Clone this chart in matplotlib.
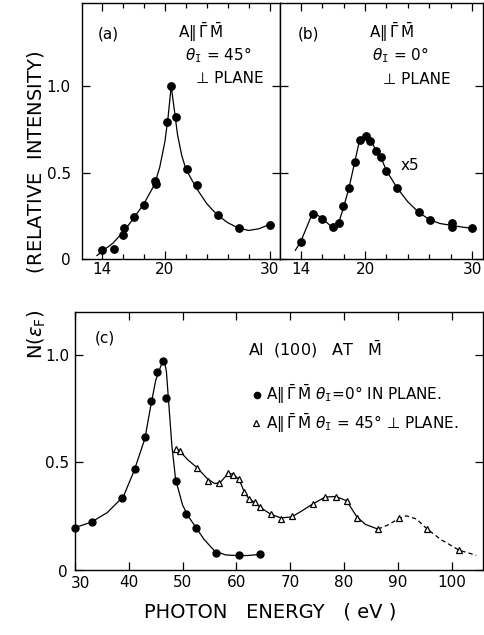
import matplotlib
matplotlib.use("Agg")
import matplotlib.pyplot as plt

plt.rcParams['font.family'] = ['DejaVu Sans']
plt.rcParams['mathtext.fontset'] = 'dejavusans'

# panel (a): A || GM, theta=45, perp plane
a_x = [14.0, 15.1, 16.0, 16.06, 17.0, 18.0, 19.07, 19.13, 20.2, 20.6, 21.1, 22.08, 23.03, 25.03, 27.05, 30.07]
a_y = [0.052, 0.056, 0.14, 0.177, 0.245, 0.314, 0.449, 0.434, 0.794, 1.0, 0.823, 0.52, 0.426, 0.253, 0.177, 0.197]
a_cx = [13.5, 14, 15, 16, 17, 18, 19, 19.5, 20, 20.3, 20.6, 20.9, 21.2, 21.6, 22, 23, 24, 25, 26, 27, 28, 29, 30]
a_cy = [0.02, 0.045, 0.09, 0.155, 0.235, 0.32, 0.43, 0.53, 0.68, 0.82, 1.0, 0.86, 0.72, 0.6, 0.52, 0.41, 0.32, 0.255, 0.21, 0.18, 0.165, 0.175, 0.2]

# panel (b): A || GM, theta=0, perp plane (x5)
b_x = [14.03, 15.17, 15.98, 16.98, 17.56, 17.96, 18.5, 19.08, 19.55, 20.05, 20.5, 20.98, 21.5, 22.0, 22.99, 25.03, 26.1, 28.07, 28.07, 30.0]
b_y = [0.096, 0.26, 0.233, 0.183, 0.21, 0.306, 0.41, 0.559, 0.69, 0.713, 0.684, 0.626, 0.588, 0.509, 0.41, 0.273, 0.225, 0.21, 0.187, 0.177]
b_cx = [13.5, 14, 15, 15.3, 16, 16.9, 17.5, 18, 18.5, 19, 19.5, 20, 20.5, 21, 21.5, 22, 23, 24, 25, 26, 27, 28, 29, 30]
b_cy = [0.05, 0.1, 0.25, 0.265, 0.235, 0.185, 0.2, 0.3, 0.41, 0.55, 0.69, 0.715, 0.69, 0.63, 0.585, 0.51, 0.41, 0.33, 0.27, 0.228, 0.205, 0.195, 0.185, 0.177]

# panel (c): Al(100) at M
dot_x = [30.0, 33.1, 38.8, 41.15, 43.07, 44.1, 45.2, 46.4, 47.0, 48.7, 50.6, 52.5, 56.3, 60.5, 64.4]
dot_y = [0.195, 0.219, 0.335, 0.467, 0.617, 0.783, 0.919, 0.972, 0.8, 0.412, 0.26, 0.194, 0.077, 0.066, 0.07]
dot_cx = [30, 33, 36, 39, 41, 43, 44, 45, 46, 46.6, 47, 47.5, 48, 48.7, 50, 51, 52.5, 54, 56, 58, 60, 62, 64.4]
dot_cy = [0.195, 0.22, 0.265, 0.34, 0.46, 0.61, 0.75, 0.88, 0.95, 0.975, 0.92, 0.75, 0.58, 0.42, 0.3, 0.25, 0.195, 0.14, 0.085, 0.068, 0.065, 0.065, 0.07]

tri_x = [48.8, 49.5, 52.7, 54.7, 56.7, 58.4, 59.3, 60.5, 61.4, 62.3, 63.5, 64.4, 66.4, 68.3, 70.3, 74.2, 76.5, 78.5, 80.5, 82.4, 86.3, 90.3, 95.4, 101.4]
tri_y = [0.563, 0.55, 0.474, 0.412, 0.403, 0.447, 0.442, 0.419, 0.361, 0.326, 0.312, 0.29, 0.257, 0.237, 0.249, 0.304, 0.338, 0.338, 0.319, 0.242, 0.189, 0.24, 0.19, 0.09]
tri_cx = [48.8, 49.5, 51, 52.7, 54.7, 56, 57, 58.4, 59.3, 60.5, 61.4, 62.3, 63.5, 64.4, 66.4, 68.3, 70.3, 72, 74.2, 76.5, 78.5, 80.5, 82.4, 84, 86.3]
tri_cy = [0.565, 0.55, 0.51, 0.474, 0.42, 0.4, 0.405, 0.445, 0.445, 0.42, 0.365, 0.33, 0.31, 0.29, 0.257, 0.24, 0.245, 0.27, 0.305, 0.337, 0.34, 0.32, 0.245, 0.21, 0.188]
tri_dx = [86.3, 88, 90.3, 91.6, 93.5, 95.4, 98, 101.4, 104.6]
tri_dy = [0.188, 0.205, 0.238, 0.25, 0.235, 0.19, 0.14, 0.09, 0.066]

W, H = 484, 635
fig = plt.figure(figsize=(W / 100, H / 100), dpi=100)

def frac(l, t, r, b):
    return [l / W, 1 - b / H, (r - l) / W, (b - t) / H]

ax_a = fig.add_axes(frac(82, 3, 280, 259))
ax_b = fig.add_axes(frac(280, 3, 483, 259))
ax_c = fig.add_axes(frac(75, 311.7, 482.7, 569.5))

fs = 11
for ax in (ax_a, ax_b, ax_c):
    for s in ax.spines.values():
        s.set_linewidth(1.0)
    ax.tick_params(which='both', direction='in', top=True, right=True, width=0.9,
                   labelsize=fs, pad=3)
    ax.tick_params(which='major', length=6)
    ax.tick_params(which='minor', length=3.5)

# panels a and b
for ax, px, py, cx, cy in ((ax_a, a_x, a_y, a_cx, a_cy), (ax_b, b_x, b_y, b_cx, b_cy)):
    ax.plot(cx, cy, color='black', lw=0.9)
    ax.plot(px, py, 'o', color='black', ms=5.3)
    ax.set_xlim(12.07, 31.0)
    ax.set_ylim(0, 1.48)
    ax.set_xticks([14, 20, 30])
    ax.set_xticklabels(['14', '20', '30'])
    ax.set_xticks([16, 18, 22, 24, 26, 28], minor=True)
    ax.set_yticks([0, 0.5, 1.0])
    ax.tick_params(axis='x', pad=2)

ax_a.set_yticklabels(['0', '0.5', '1.0'])
ax_a.tick_params(axis='y', pad=8)
ax_b.set_yticklabels([])

ab = r'A$\Vert\,\bar{\Gamma}\,\bar{\mathrm{M}}$'
ax_a.text(14.6, 1.30, '(a)', fontsize=fs, ha='center', va='center')
ax_a.text(23.4, 1.31, ab, fontsize=fs, ha='center', va='center')
ax_a.text(25.1, 1.18, r'$\theta_\mathtt{I}$ = 45°', fontsize=fs, ha='center', va='center')
ax_a.text(26.2, 1.046, '⊥ PLANE', fontsize=fs, ha='center', va='center')

ax_b.text(14.7, 1.30, '(b)', fontsize=fs, ha='center', va='center')
ax_b.text(22.5, 1.31, ab, fontsize=fs, ha='center', va='center')
ax_b.text(23.3, 1.18, r'$\theta_\mathtt{I}$ = 0°', fontsize=fs, ha='center', va='center')
ax_b.text(24.8, 1.04, '⊥ PLANE', fontsize=fs, ha='center', va='center')
ax_b.text(24.2, 0.543, 'x5', fontsize=fs, ha='center', va='center')

# panel c
ax_c.plot(dot_cx, dot_cy, color='black', lw=0.9)
ax_c.plot(dot_x, dot_y, 'o', color='black', ms=5.0, clip_on=False)
ax_c.plot(tri_cx, tri_cy, color='black', lw=0.9)
ax_c.plot(tri_dx, tri_dy, color='black', lw=0.9, ls=(0, (3.5, 2.5)))
ax_c.plot(tri_x, tri_y, '^', mfc='white', mec='black', mew=0.9, ms=4.2)
ax_c.set_xlim(30, 105.8)
ax_c.set_ylim(0, 1.2)
ax_c.set_xticks([30, 40, 50, 60, 70, 80, 90, 100])
ax_c.set_xticklabels(['', '40', '50', '60', '70', '80', '90', '100'])
ax_c.set_yticks([0, 0.5, 1.0])
ax_c.set_yticklabels(['', '0.5', '1.0'])
ax_c.tick_params(axis='y', pad=4)
ax_c.tick_params(axis='x', pad=4)
# corner labels: "0" low at left, "30" a little right of the corner
ax_c.annotate('0', xy=(30, 0), xytext=(-12, -3), textcoords='offset pixels',
              fontsize=fs, ha='center', va='center', annotation_clip=False)
ax_c.annotate('30', xy=(30, 0), xytext=(5, -14), textcoords='offset pixels',
              fontsize=fs, ha='center', va='center', annotation_clip=False)

ax_c.text(35.6, 1.076, '(c)', fontsize=fs, ha='center', va='center')
ax_c.text(74.6, 1.025, r'Al  (100)   AT   $\bar{\mathrm{M}}$', fontsize=11.5, ha='center', va='center')
ax_c.plot([63.8], [0.814], 'o', color='black', ms=4.5)
ax_c.plot([63.6], [0.682], '^', mfc='white', mec='black', mew=0.9, ms=4.2)
ax_c.text(65.6, 0.814, ab + r' $\theta_\mathtt{I}$=0° IN PLANE.', fontsize=11, ha='left', va='center')
ax_c.text(65.6, 0.682, ab + r' $\theta_\mathtt{I}$ = 45° ⊥ PLANE.', fontsize=11, ha='left', va='center')

fig.text(270 / W, 1 - 612 / H, 'PHOTON   ENERGY   ( eV )', fontsize=14, ha='center', va='center')
fig.text(37 / W, 1 - 205 / H, r'N($\epsilon_{\rm F}$)      (RELATIVE  INTENSITY)',
         fontsize=14, rotation=90, ha='center', va='center')

fig.savefig('out.png', dpi=100)
